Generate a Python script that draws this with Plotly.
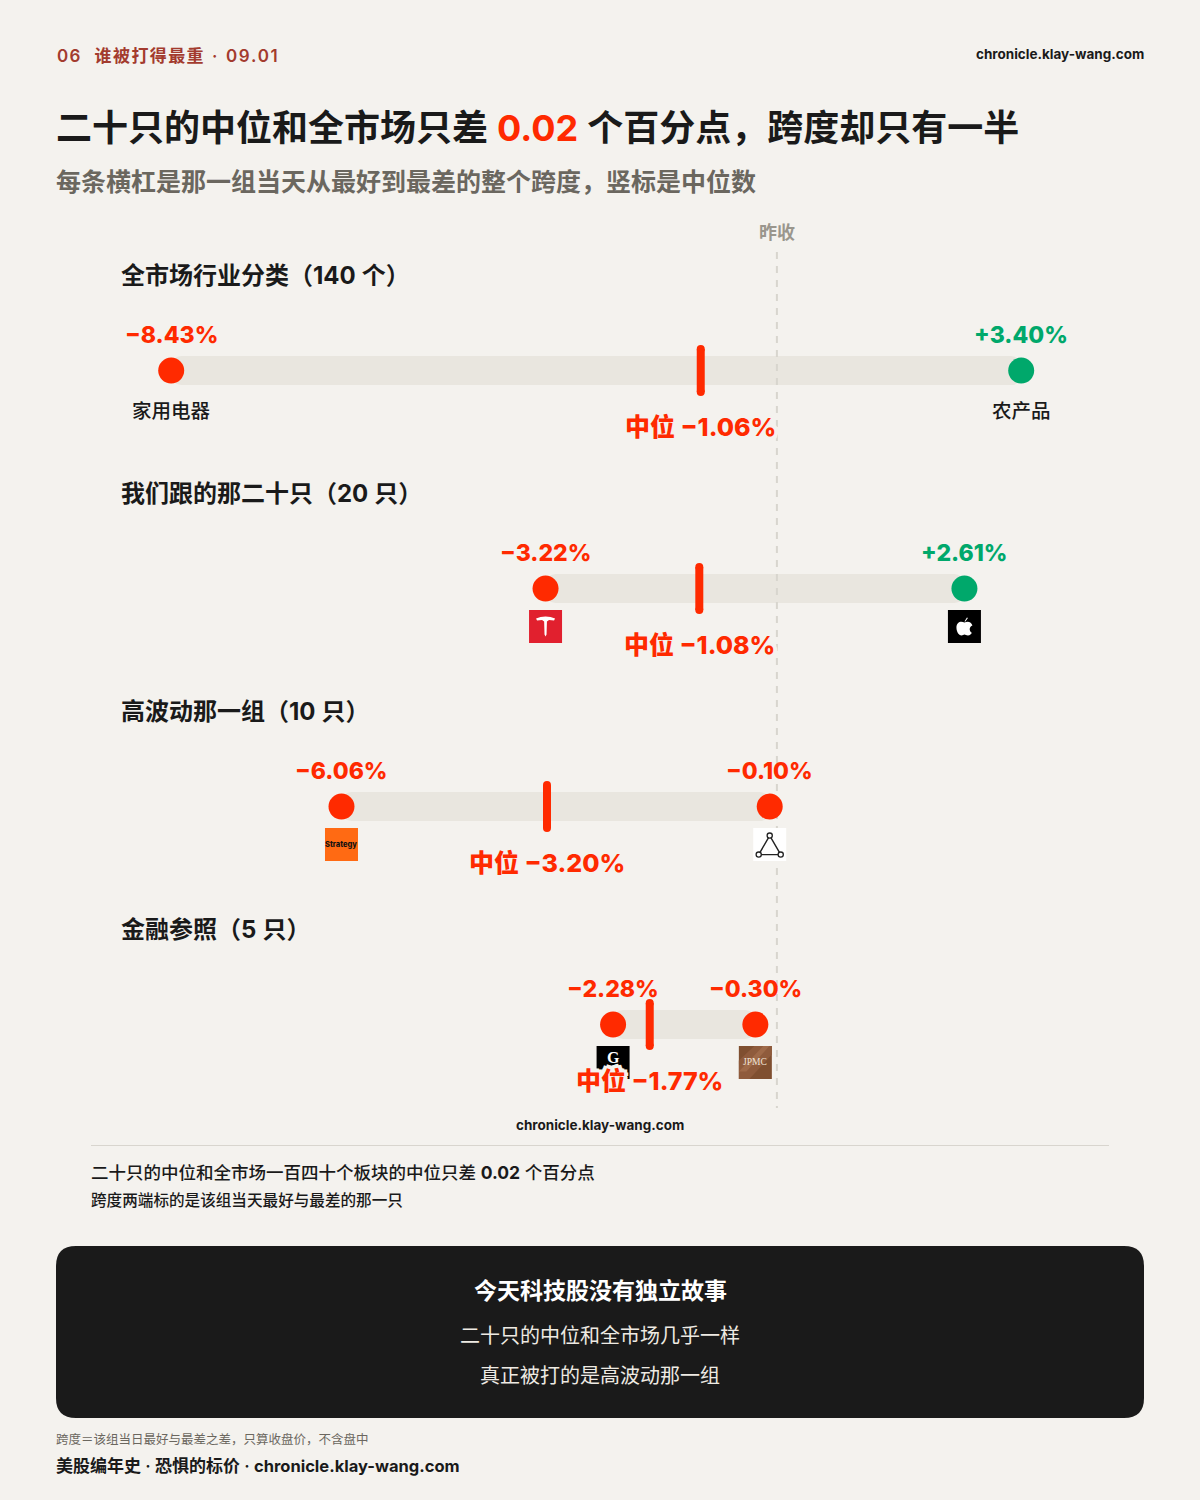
import plotly.graph_objects as go

# ---------- data ----------
row_titles = ["全市场行业分类（<b>140</b> 个）", "我们跟的那二十只（<b>20</b> 只）", "高波动那一组（<b>10</b> 只）", "金融参照（<b>5</b> 只）"]
low_values = [-8.43, -3.22, -6.06, -2.28]
high_values = [3.40, 2.61, -0.10, -0.30]
median_values = [-1.06, -1.08, -3.20, -1.77]
low_sector = "家用电器"
high_sector = "农产品"
rows = [0, 1, 2, 3]

# ---------- style ----------
W, H = 1200, 1500
BG = "#f4f2ee"
INK = "#1a1a1a"
RED = "#ff2a00"
GREEN = "#00a86b"
TRACK = "#e9e6df"
FONT = "Inter, 'Noto Sans CJK SC', sans-serif"
PX_PER_PCT = 71.85
ZERO_PX = 776.9
ROW0_PX = 370.6
ROW_STEP = 218


def fmt(v):
    return f"{v:+.2f}%".replace("-", "−")


def color_of(v):
    return GREEN if v > 0 else RED


def row_at(py):
    return (py - ROW0_PX) / ROW_STEP


fig = go.Figure()

# tracks
fig.add_trace(go.Bar(
    orientation="h", y=rows, base=low_values,
    x=[h - l for h, l in zip(high_values, low_values)],
    width=29 / ROW_STEP,
    marker=dict(color=TRACK, cornerradius=10, line=dict(width=0)),
    hoverinfo="skip", showlegend=False,
))

# previous close reference
fig.add_trace(go.Scatter(
    x=[0, 0], y=[row_at(252), row_at(1108)], mode="lines",
    line=dict(color="#d8d5ce", width=2, dash="7px,7px"),
    hoverinfo="skip", showlegend=False,
))

# median ticks
half = 21.5 / ROW_STEP
mx, my = [], []
for r, m in zip(rows, median_values):
    mx += [m, m, None]
    my += [r - half, r + half, None]
fig.add_trace(go.Scatter(
    x=mx, y=my, mode="lines+markers",
    line=dict(color=RED, width=8),
    marker=dict(color=RED, size=8, line=dict(width=0)),
    hoverinfo="skip", showlegend=False,
))

# end dots
fig.add_trace(go.Scatter(
    x=low_values + high_values, y=rows + rows, mode="markers",
    marker=dict(size=26, color=[color_of(v) for v in low_values + high_values], line=dict(width=0)),
    hoverinfo="skip", showlegend=False,
))

ann = []


def page_text(x, y, text, size, color=INK, anchor="left", weight=400, **kw):
    ann.append(dict(
        xref="paper", yref="paper", x=x / W, y=1 - y / H, text=text, showarrow=False,
        xanchor=anchor, yanchor="middle", align=anchor, borderpad=0, borderwidth=0,
        font=dict(family=FONT, size=size, color=color, weight=weight), **kw))


def data_text(xv, r, dy, text, size, color=INK, weight=400, shadow=None):
    font = dict(family=FONT, size=size, color=color, weight=weight)
    if shadow:
        font["shadow"] = shadow
    ann.append(dict(
        xref="x", yref="y", x=xv, y=r, yshift=-dy, text=text, showarrow=False,
        xanchor="center", yanchor="middle", borderpad=0, borderwidth=0, font=font))


# header
page_text(56.5, 56, "0\u200a6\u2002\u2009\u200a\u200a谁\u200a被\u200a打\u200a得\u200a最\u200a重\u2009\u200a ·\u2009\u200a 0\u200a9\u200a.\u200a0\u200a1",
          17, "#a33b2e", weight=600)
page_text(1144, 54.5, "chronicle.klay-wang.com", 13.5, INK, "right", 700)
page_text(56, 128, f"二十只的中位和全市场只差 <span style='color:{RED}'><b>0.02</b></span> 个百分点，跨度却只有一半", 36, INK, weight=600)
page_text(56, 182, "每条横杠是那一组当天从最好到最差的整个跨度，竖标是中位数", 25, "#6b675f", weight=600)
page_text(777, 233, "昨收", 18, "#9a968d", "center", 600)

# rows
halo = ",".join(f"{a}px {b}px 0 {BG}" for a, b in
                [(4, 0), (-4, 0), (0, 4), (0, -4), (3, 3), (-3, 3), (3, -3), (-3, -3), (2, 0), (-2, 0), (0, 2), (0, -2)])
for r, title, lo, hi, med in zip(rows, row_titles, low_values, high_values, median_values):
    page_text(121, ROW0_PX + ROW_STEP * r - 95.5, title, 24, INK, weight=600)
    data_text(lo, r, -36, fmt(lo), 23, color_of(lo), 800)
    data_text(hi, r, -36, fmt(hi), 23, color_of(hi), 800)
    data_text(med, r, 56.5, f"中位 {fmt(med)}", 25, RED, 800, shadow=halo)

data_text(low_values[0], 0, 40, low_sector, 19.5, INK, 500)
data_text(high_values[0], 0, 40, high_sector, 19.5, INK, 500)

shapes = []


def logo_shape(xv, r, path, fill=None, line=None, lw=0):
    shapes.append(dict(
        type="path", xref="x", yref="y", xsizemode="pixel", ysizemode="pixel",
        xanchor=xv, yanchor=r, path=path, fillcolor=fill or "rgba(0,0,0,0)",
        line=dict(color=line or "rgba(0,0,0,0)", width=lw), layer="above"))


def poly(pts):
    return "M " + " L ".join(f"{x},{-y}" for x, y in pts) + " Z"


def circ(cx, cy, rad):
    k = 0.552 * rad
    y = -cy
    return (f"M {cx - rad},{y} C {cx - rad},{y + k} {cx - k},{y + rad} {cx},{y + rad} "
            f"C {cx + k},{y + rad} {cx + rad},{y + k} {cx + rad},{y} "
            f"C {cx + rad},{y - k} {cx + k},{y - rad} {cx},{y - rad} "
            f"C {cx - k},{y - rad} {cx - rad},{y - k} {cx - rad},{y} Z")


def square(x0=-16.5, y0=21.5, size=33):
    return poly([(x0, y0), (x0 + size, y0), (x0 + size, y0 + size), (x0, y0 + size)])


# Tesla
t = low_values[1]
logo_shape(t, 1, square(), "#e1202e")
logo_shape(t, 1, poly([(-9.5, 30), (-5, 28.5), (0, 28), (5, 28.5), (9.5, 30), (8.5, 32), (3.5, 31.5), (1.4, 33), (1, 46), (0, 48),
                       (-1, 46), (-1.4, 33), (-3.5, 31.5), (-8.5, 32)]), "#ffffff")
# Apple
a = high_values[1]
logo_shape(a, 1, square(), "#000000")
logo_shape(a, 1, f"M 0,{-34} C -3,{-32} -8,{-33} -8,{-39} C -8,{-44} -5,{-47} -3,{-47} C -1.5,{-47} -1,{-46} 0,{-46} "
                 f"C 1,{-46} 2,{-47} 3.5,{-47} C 5.5,{-47} 7,{-45} 7.5,{-44.5} C 4,{-42} 5,{-38} 8,{-37} "
                 f"C 7,{-34} 4,{-32} 0,{-34} Z", "#ffffff")
logo_shape(a, 1, poly([(0, 33), (2.5, 29), (3.5, 29.5), (1, 33)]), "#ffffff")
# Strategy
s = low_values[2]
logo_shape(s, 2, square(), "#ff6a13")
data_text(s, 2, 37.5, "Strategy", 7.5, "#111111", 800)
# triangle mark
c = high_values[2]
logo_shape(c, 2, square(), "#ffffff")
logo_shape(c, 2, f"M 0,{-29} L -11,{-48} L 11,{-48} Z", None, "#222222", 1.4)
for vx, vy in [(0, 29), (-11, 48), (11, 48)]:
    logo_shape(c, 2, circ(vx, vy, 2.6), "#ffffff", "#222222", 1.3)
# G
g = low_values[3]
logo_shape(g, 3, square(), "#000000")
data_text(g, 3, 33, "<span style='font-family:Liberation Serif'>G</span>", 16, "#ffffff", 700)
# JPMC
j = high_values[3]
logo_shape(j, 3, square(), "#7f4f30")
logo_shape(j, 3, poly([(-16.5, 36), (-1, 21.5), (16.5, 21.5), (16.5, 30), (-6, 54.5), (-16.5, 54.5)]), "#8f5b3c")
logo_shape(j, 3, poly([(-16.5, 47), (8, 21.5), (14, 21.5), (-9, 47)]), "#9f6a49")
data_text(j, 3, 37, "<span style='font-family:Liberation Serif'>JPMC</span>", 9.5, "#f2e6da", 400)

# re-order so median labels sit above the logos
ann.sort(key=lambda item: "中位" in item["text"])

# footer of the chart card
page_text(600, 1125, "chronicle.klay-wang.com", 13.5, INK, "center", 700)
page_text(91, 1172.5, "二十只的中位和全市场一百四十个板块的中位只差 <b>0.02</b> 个百分点", 17.5, INK, weight=500)
page_text(91, 1200, "跨度两端标的是该组当天最好与最差的那一只", 15.6, INK, weight=500)
shapes.append(dict(type="line", xref="paper", yref="paper", x0=91 / W, x1=1109 / W, y0=1 - 1145.5 / H, y1=1 - 1145.5 / H,
                   line=dict(color="#d8d5ce", width=1.2), layer="below"))

# dark call-out
bx0, bx1, by0, by1, rad = 56 / W, 1144 / W, 1 - 1246 / H, 1 - 1418 / H, 20
rx, ry = rad / W, rad / H
shapes.append(dict(
    type="path", xref="paper", yref="paper",
    path=(f"M {bx0 + rx},{by0} L {bx1 - rx},{by0} Q {bx1},{by0} {bx1},{by0 - ry} "
          f"L {bx1},{by1 + ry} Q {bx1},{by1} {bx1 - rx},{by1} L {bx0 + rx},{by1} "
          f"Q {bx0},{by1} {bx0},{by1 + ry} L {bx0},{by0 - ry} Q {bx0},{by0} {bx0 + rx},{by0} Z"),
    fillcolor=INK, line=dict(width=0), layer="below"))
page_text(600, 1291, "今天科技股没有独立故事", 23, "#ffffff", "center", 700)
page_text(600, 1336, "二十只的中位和全市场几乎一样", 20, "#eeeae3", "center", 400)
page_text(600, 1376, "真正被打的是高波动那一组", 20, "#eeeae3", "center", 400)

page_text(56, 1439, "跨度＝该组当日最好与最差之差，只算收盘价，不含盘中", 12.5, "#6b675f", weight=400)
page_text(56, 1466, "美股编年史 · 恐惧的标价 · <span style='font-size:16.5px'><b>chronicle.klay-wang.com</b></span>", 17, INK, weight=600)

fig.update_layout(
    width=W, height=H, margin=dict(l=0, r=0, t=0, b=0),
    paper_bgcolor=BG, plot_bgcolor=BG, showlegend=False, barmode="overlay",
    xaxis=dict(visible=False, fixedrange=True, range=[-ZERO_PX / PX_PER_PCT, (W - ZERO_PX) / PX_PER_PCT]),
    yaxis=dict(visible=False, fixedrange=True, range=[row_at(H), row_at(0)]),
    annotations=ann, shapes=shapes,
)

fig.write_html("out.html", config=dict(displayModeBar=False),
               post_script=f"document.body.style.margin='0';document.body.style.background='{BG}';")
